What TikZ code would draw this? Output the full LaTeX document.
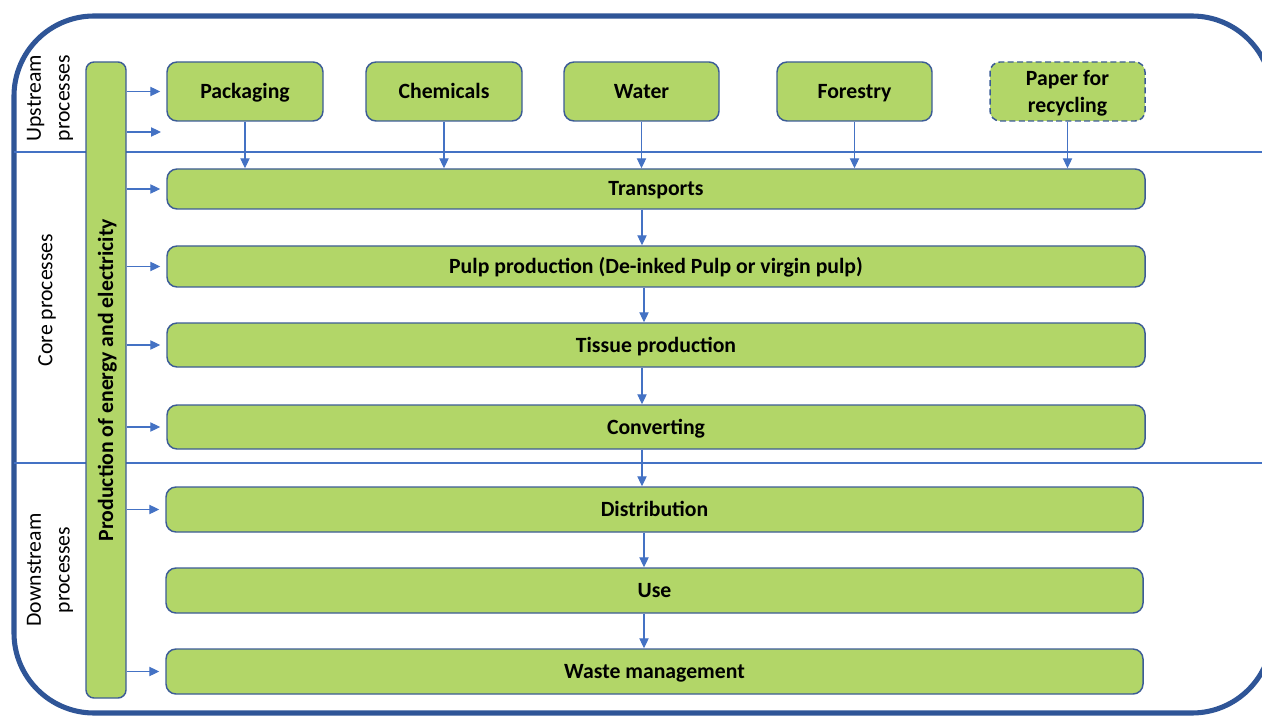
\documentclass[tikz,border=0pt]{standalone}
\usepackage{fontspec}
\setmainfont{Carlito}
\usetikzlibrary{arrows.meta,calc}
\definecolor{boxfill}{RGB}{178,214,104}
\definecolor{boxline}{RGB}{60,92,150}
\definecolor{outerline}{RGB}{47,85,151}
\definecolor{sepline}{RGB}{68,114,196}
\definecolor{arrcol}{RGB}{68,114,196}
\begin{document}
\begin{tikzpicture}[x=0.75pt,y=-0.75pt,
  box/.style={draw=boxline, fill=boxfill, rounded corners=7.5pt, line width=1.1pt,
    font=\bfseries\fontsize{16.3}{20.5}\selectfont, inner sep=0pt, align=center},
  line1/.style={text height=13pt, text depth=2.5pt},
  wide/.style={box, line1, minimum width={978*0.75pt}},
  upbox/.style={box, minimum width={156*0.75pt}, minimum height={59*0.75pt}},
  arr/.style={draw=arrcol, line width=0.8pt, -{Triangle[length=7.5pt,width=7pt]}},
  seclabel/.style={rotate=90, align=center, font=\fontsize{16.3}{21.5}\selectfont, inner sep=0pt},
  outer/.style={draw=outerline, line width=3.8pt, rounded corners=60pt},
  sep/.style={draw=sepline, line width=1.5pt}]
\useasboundingbox (0,0) rectangle (1262,716);
\clip (0,0) rectangle (1262,716);
% outer frame and separators
\draw[outer] (14,16) rectangle (1272,713);
\draw[sep] (14,152) -- (1272,152);
\draw[sep] (14,463) -- (1272,463);
% section labels
\node[seclabel] (lup) at (50,98) {Upstream\\processes};
\node[seclabel] (lcore) at (47,300) {Core processes};
\node[seclabel] (ldown) at (50,570) {Downstream\\processes};
% energy bar
\node[box, line1, rotate=90, minimum width={636*0.75pt}, minimum height={40*0.75pt}, rounded corners=6pt] (energy) at (106,380) {Production of energy and electricity};
% upstream boxes
\node[upbox, line1] (pack) at (245,91.5) {Packaging};
\node[upbox, line1] (chem) at (444,91.5) {Chemicals};
\node[upbox, line1, minimum width={155*0.75pt}] (water) at (641.5,91.5) {Water};
\node[upbox, line1, minimum width={155*0.75pt}] (forest) at (854.5,91.5) {Forestry};
\node[upbox, text depth=0pt, minimum width={155*0.75pt}, dash pattern=on 4.5pt off 2.5pt] (paper) at (1067.5,91.5) {Paper for\\recycling};
% core boxes
\node[wide, minimum height={40*0.75pt}] (trans) at (656,189) {Transports};
\node[wide, minimum height={41*0.75pt}] (pulp) at (656,266.5) {Pulp production (De-inked Pulp or virgin pulp)};
\node[wide, minimum height={44*0.75pt}] (tissue) at (656,345) {Tissue production};
\node[wide, minimum height={44*0.75pt}] (conv) at (656,427) {Converting};
% downstream boxes
\node[box, line1, minimum width={977*0.75pt}, minimum height={45*0.75pt}] (dist) at (654.5,509.5) {Distribution};
\node[box, line1, minimum width={977*0.75pt}, minimum height={45*0.75pt}] (use) at (654.5,590.5) {Use};
\node[box, line1, minimum width={977*0.75pt}, minimum height={45*0.75pt}] (waste) at (654.5,671.5) {Waste management};
% helper coordinates
\coordinate (cxa) at (642,0);
\coordinate (cxb) at (644,0);
\coordinate (free) at (161,132);
% upstream to transports
\draw[arr] (pack.south) -- (pack.south |- trans.north);
\draw[arr] (chem.south) -- (chem.south |- trans.north);
\draw[arr] (water.south) -- (water.south |- trans.north);
\draw[arr] (forest.south) -- (forest.south |- trans.north);
\draw[arr] (paper.south) -- (paper.south |- trans.north);
% chain
\draw[arr] (trans.south -| cxa) -- (pulp.north -| cxa);
\draw[arr] (pulp.south -| cxb) -- (tissue.north -| cxb);
\draw[arr] (tissue.south -| cxa) -- (conv.north -| cxa);
\draw[arr] (conv.south -| cxa) -- (dist.north -| cxa);
\draw[arr] (dist.south -| cxb) -- (use.north -| cxb);
\draw[arr] (use.south -| cxb) -- (waste.north -| cxb);
% energy arrows
\draw[arr, shorten >=4.5pt] (energy.south |- pack.west) -- (pack.west);
\draw[arr] (energy.south |- free) -- (free);
\draw[arr, shorten >=4.5pt] (energy.south |- trans.west) -- (trans.west);
\draw[arr, shorten >=4.5pt] (energy.south |- pulp.west) -- (pulp.west);
\draw[arr, shorten >=4.5pt] (energy.south |- tissue.west) -- (tissue.west);
\draw[arr, shorten >=4.5pt] (energy.south |- conv.west) -- (conv.west);
\draw[arr, shorten >=4.5pt] (energy.south |- dist.west) -- (dist.west);
\draw[arr, shorten >=4.5pt] (energy.south |- waste.west) -- (waste.west);
\end{tikzpicture}
\end{document}
